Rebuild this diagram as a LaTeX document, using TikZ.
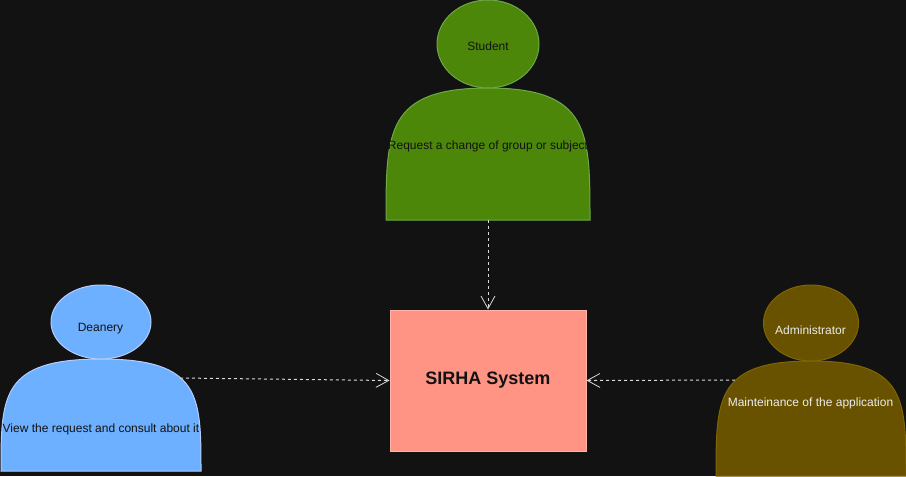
\documentclass[tikz,border=0pt]{standalone}
\usepackage{fontspec}
\setmainfont{Liberation Sans}
\usetikzlibrary{arrows.meta}
\definecolor{bgdark}{HTML}{121212}
\definecolor{studentfill}{HTML}{4D870A}
\definecolor{studentline}{HTML}{6FA84A}
\definecolor{deaneryfill}{HTML}{6CB0FF}
\definecolor{deaneryline}{HTML}{B5CDFF}
\definecolor{adminfill}{HTML}{685200}
\definecolor{adminline}{HTML}{806600}
\definecolor{systemfill}{HTML}{FF9485}
\definecolor{systemline}{HTML}{FFB3A6}
\tikzset{
  label/.style={inner sep=0pt,font=\fontsize{9}{11}\selectfont,text=bgdark},
  adminlabel/.style={label,text=white!92!black},
  request/.style={draw=white!85!black,line width=0.75pt,dash pattern=on 2.25pt off 2.25pt,
    -{Straight Barb[length=9.5pt,width=10.5pt,line width=0.6pt]}}
}

\begin{document}
\begin{tikzpicture}[x=0.75pt,y=-0.75pt,line width=0.75pt]
\fill[bgdark] (0,0) rectangle (906,476);
\useasboundingbox (0,0) rectangle (906,476);

% student
\draw[fill=studentfill,draw=studentline] (386,220) .. controls (386,132) and (386,88) .. (488,88)
  .. controls (590,88) and (590,132) .. (590,220) -- cycle;
\draw[fill=studentfill,draw=studentline] (488,44) ellipse [x radius=51,y radius=44];
\node[label] (student) at (488,46.5) {Student};
\node[label] (studentreq) at (488,146.5) {Request a change of group or subject};
\coordinate (studentfoot) at (488,220);

% deanery
\draw[fill=deaneryfill,draw=deaneryline] (1,471) .. controls (1,396) and (1,359) .. (101,359)
  .. controls (201,359) and (201,396) .. (201,471) -- cycle;
\draw[fill=deaneryfill,draw=deaneryline] (101,322) ellipse [x radius=50,y radius=37];
\node[label] (deanery) at (100.5,328.5) {Deanery};
\node[label] (deaneryreq) at (101,429.5) {View the request and consult about it};
\coordinate (deaneryside) at (180,378);

% administrator
\draw[fill=adminfill,draw=adminline] (716,476) .. controls (716,399) and (716,361) .. (811,361)
  .. controls (906,361) and (906,399) .. (906,476) -- cycle;
\draw[fill=adminfill,draw=adminline] (811,323) ellipse [x radius=47.5,y radius=38];
\node[adminlabel] (admin) at (810.5,330.5) {Administrator};
\node[adminlabel] (adminreq) at (810.5,403) {Mainteinance of the application};
\coordinate (adminside) at (735,380);

% system
\node[draw=systemline,fill=systemfill,minimum width=147pt,minimum height=105.75pt,
  inner sep=0pt,font=\bfseries\fontsize{13.5}{16}\selectfont,text=bgdark] (system) at (488,380.5) {SIRHA System};

\draw[request] (studentfoot) -- (system.north);
\draw[request] (deaneryside) -- (system.west);
\draw[request] (adminside) -- (system.east);
\end{tikzpicture}
\end{document}
